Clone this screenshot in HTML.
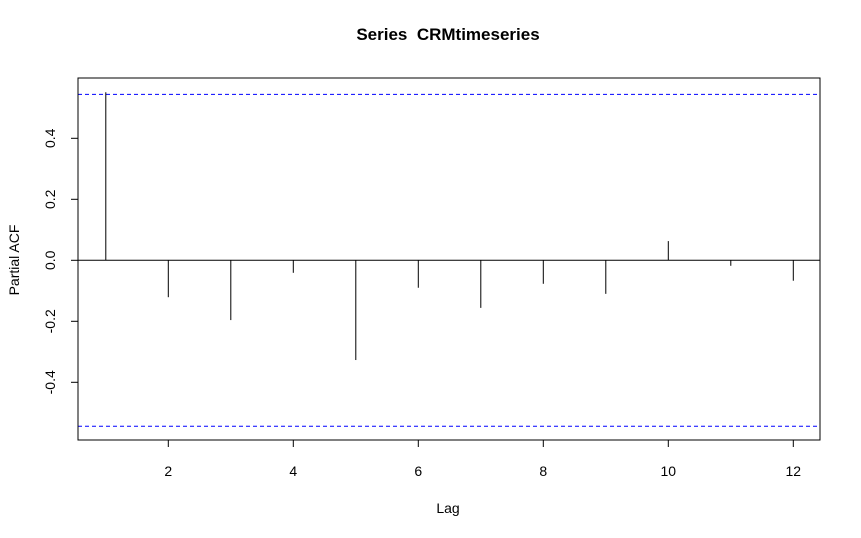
<!DOCTYPE html>
<html><head><meta charset="utf-8"><style>
body{margin:0;background:#fff;}
svg{display:block;font-family:"Liberation Sans",Arial,sans-serif;}
</style></head><body>
<svg id="chart" width="861" height="538">
<text x="448" y="40" text-anchor="middle" font-size="17" font-weight="bold" style="white-space:pre" xml:space="preserve">Series  CRMtimeseries</text>
<text x="448" y="513" text-anchor="middle" font-size="14">Lag</text>
<text transform="translate(19,260) rotate(-90)" text-anchor="middle" font-size="14">Partial ACF</text>
<g id="marks"></g>
<rect x="78" y="78" width="742" height="362" fill="none" stroke="#000" stroke-width="1"/>
</svg>
<script>
const lags=[1,2,3,4,5,6,7,8,9,10,11,12];
const pacf=[0.551,-0.121,-0.196,-0.041,-0.327,-0.09,-0.156,-0.077,-0.11,0.063,-0.018,-0.067];
const ci=0.544;
const xTicks=[2,4,6,8,10,12];
const yTicks=[-0.4,-0.2,0.0,0.2,0.4];
function X(l){return 168.3+(l-2)*62.5;}
function Y(v){return 260.3-v*305;}
const NS="http://www.w3.org/2000/svg";
const g=document.getElementById('marks');
function mk(t,a){const e=document.createElementNS(NS,t);for(const k in a)e.setAttribute(k,a[k]);g.appendChild(e);return e;}
let e=mk('line',{x1:78,x2:820,y1:Y(0),y2:Y(0),stroke:'#000'});


[ci,-ci].forEach(c=>{const l=mk('line',{x1:78,x2:820,y1:Y(c),y2:Y(c),stroke:'#0000ff','stroke-dasharray':'4,3'});

});
lags.forEach((l,i)=>{const b=mk('line',{x1:X(l),x2:X(l),y1:Y(0),y2:Y(pacf[i]),stroke:'#000'});

});
xTicks.forEach(t=>{const k=mk('line',{x1:X(t),x2:X(t),y1:440,y2:447,stroke:'#000'});


const s=mk('text',{x:X(t),y:476,'text-anchor':'middle','font-size':14});s.textContent=t;

});
yTicks.forEach(t=>{const k=mk('line',{x1:71,x2:78,y1:Y(t),y2:Y(t),stroke:'#000'});


const s=mk('text',{transform:'translate(55,'+Y(t)+') rotate(-90)','text-anchor':'middle','font-size':14});s.textContent=t.toFixed(1);

});
</script>
</body></html>
